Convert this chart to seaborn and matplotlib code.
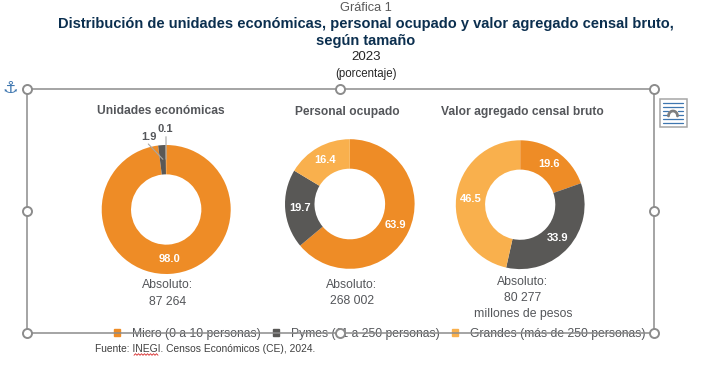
import numpy as np
import matplotlib
matplotlib.use("Agg")
import matplotlib.pyplot as plt
from matplotlib.patches import Patch, Rectangle
import seaborn as sns

sns.set_theme(style="white")
plt.rcParams['font.family'] = ['Liberation Sans', 'DejaVu Sans']

W, H = 708, 366
panel_titles = ["Unidades económicas", "Personal ocupado", "Valor agregado censal bruto"]
categories = ["Micro (0 a 10 personas)", "Pymes (11 a 250 personas)", "Grandes (más de 250 personas)"]
unidades = [98.0, 1.9, 0.1]
personal = [63.9, 19.7, 16.4]
valor = [19.6, 33.9, 46.5]
absolutos = ["Absoluto:\n87 264", "Absoluto:\n268 002", "Absoluto:\n80 277\nmillones de pesos"]
colors = sns.color_palette(["#EE8C26", "#595856", "#F9B04D"])
GREY = "#54565A"

fig = plt.figure(figsize=(W / 100, H / 100), dpi=100, facecolor="white")
bg = fig.add_axes([0, 0, 1, 1])
bg.set_xlim(0, W)
bg.set_ylim(H, 0)
bg.axis("off")

# Selection frame and handles
x0, x1, y0, y1 = 26.5, 654, 89, 333
fc = "#8C8C8C"
bg.plot([x0, x1, x1, x0, x0], [y0, y0, y1, y1, y0], color=fc, lw=1.1, zorder=3)
for hx in (x0, 340, x1):
    for hy in (y0, 211, y1):
        if hx == 340 and hy == 211:
            continue
        bg.plot(hx, hy, "o", ms=6.5, mfc="white", mec=fc, mew=1.4, zorder=4)

# Wrap icon
bg.add_patch(Rectangle((659.5, 98.5), 27, 28, fc="white", ec="#A6A6A6", lw=1.1, zorder=5))
for yy, a, b in [(103, 663, 683), (107, 663, 683), (111, 663, 668), (115, 663, 668),
                 (119, 663, 683), (122.5, 663, 683)]:
    bg.plot([a, b], [yy, yy], color="#3F77B0", lw=0.9, zorder=6)
bg.plot([678, 683], [111, 111], color="#3F77B0", lw=0.9, zorder=6)
bg.plot([678, 683], [115, 115], color="#3F77B0", lw=0.9, zorder=6)
tt = np.linspace(np.pi, 0, 20)
bg.plot(673 + 4.5 * np.cos(tt), 116 - 5 * np.sin(tt), color="#7F7F7F", lw=2, zorder=6)
bg.text(10, 88, "\u2693", color="#3F77B0", fontsize=12.5, fontweight="bold", ha="center", va="center",
        family="DejaVu Sans")

# Headings
HX = 366
bg.text(HX, 8, "Gráfica 1", fontsize=9.2, color="#595959", ha="center", va="center")
bg.text(HX, 24, "Distribución de unidades económicas, personal ocupado y valor agregado censal bruto,",
        fontsize=10.55, fontweight="bold", color="#0B2F4F", ha="center", va="center")
bg.text(HX, 41, "según tamaño", fontsize=10.55, fontweight="bold", color="#0B2F4F", ha="center", va="center")
bg.text(HX, 56.5, "2023", fontsize=9.6, color="#262626", ha="center", va="center")
bg.text(HX, 74, "(porcentaje)", fontsize=8.3, color="#262626", ha="center", va="center")


def donut(cx, cy, r, values):
    ax = fig.add_axes([(cx - r) / W, 1 - (cy + r) / H, 2 * r / W, 2 * r / H])
    wedges, _ = ax.pie(values, colors=colors, startangle=90, counterclock=False, radius=1,
                       wedgeprops=dict(width=0.455, edgecolor="none"))
    ax.set_xlim(-1, 1)
    ax.set_ylim(-1, 1)
    ax.patch.set_alpha(0)
    return ax, wedges


def mid_angle(values, i):
    return np.deg2rad(90 - 3.6 * (sum(values[:i]) + values[i] / 2))


centers = [(166.2, 209.5, 64.5), (349.8, 204, 64.8), (520.2, 204.7, 64.4)]
title_pos = [(161, 111), (347, 112), (522, 112)]
abs_pos = [(168, 293.5), (351.7, 292.7), (523, 298.3)]
for k, vals in enumerate([unidades, personal, valor]):
    cx, cy, r = centers[k]
    ax, wedges = donut(cx, cy, r, vals)
    bg.text(*title_pos[k], panel_titles[k], fontsize=8.65, fontweight="bold", color=GREY, ha="center", va="center")
    bg.text(*abs_pos[k], absolutos[k], fontsize=8.8, color=GREY, ha="center", va="center", linespacing=1.45)
    for i, v in enumerate(vals):
        if v < 5:
            continue
        a = mid_angle(vals, i)
        ax.text(0.775 * np.cos(a), 0.775 * np.sin(a), f"{v:.1f}", color="white", fontsize=8,
                fontweight="bold", ha="center", va="center")

# Small-slice labels with leader lines
ax0_cx, ax0_cy, ax0_r = centers[0]
for i, (lx, ly, tx, ty, ry) in zip([1, 2], [(148.7, 137.3, 148.3, 144, 0.78), (165, 129, 166, 136.7, 0.78)]):
    a = mid_angle(unidades, i)
    ex = ax0_cx + ry * ax0_r * np.cos(a)
    ey = ax0_cy - ry * ax0_r * np.sin(a)
    bg.plot([tx, ex], [ty, ey], color="#A6A6A6", lw=0.8, zorder=6)
    bg.text(lx, ly, f"{unidades[i]:.1f}", color=GREY, fontsize=8, fontweight="bold", ha="center", va="center", zorder=6)
# leader lines must sit over the donut
bg.set_zorder(5)
bg.patch.set_alpha(0)

# Legend
leg = bg.legend([Patch(color=c) for c in colors], categories, loc="center",
                bbox_to_anchor=(380 / W, 1 - 333.5 / H), bbox_transform=fig.transFigure, ncol=3,
                frameon=False, fontsize=8.7, handlelength=0.5, handleheight=0.5, handletextpad=1.0,
                columnspacing=1.0, labelcolor=GREY, borderpad=0, borderaxespad=0)
leg.set_zorder(2)

bg.text(94.7, 349, "Fuente: INEGI. Censos Económicos (CE), 2024.", fontsize=7.37, color="#404040", ha="left", va="center")
xs = np.arange(134, 158.5, 1.5)
bg.plot(xs, 354.5 + 0.8 * (-1.0) ** np.arange(len(xs)), color="#D62828", lw=0.6)

fig.savefig("out.png", dpi=100)
